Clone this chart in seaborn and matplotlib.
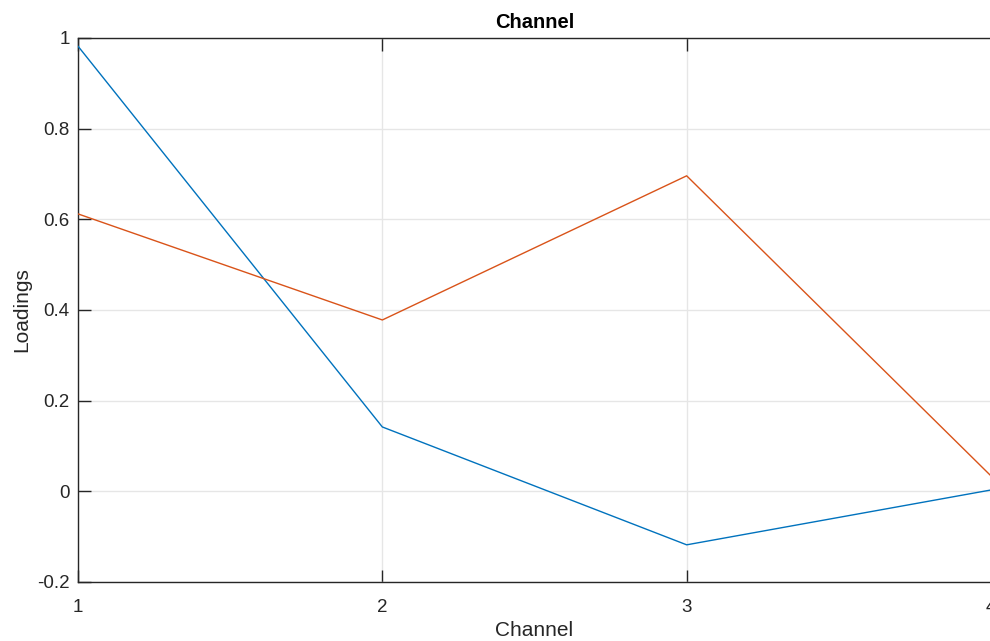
import matplotlib
matplotlib.use("Agg")
import matplotlib.pyplot as plt
import seaborn as sns
import pandas as pd

channels = [1, 2, 3, 4]
loading_1 = [0.982, 0.142, -0.118, 0.003]
loading_2 = [0.612, 0.378, 0.696, 0.034]
y_ticks = [-0.2, 0, 0.2, 0.4, 0.6, 0.8, 1.0]
y_tick_labels = ["-0.2", "0", "0.2", "0.4", "0.6", "0.8", "1"]
x_ticks = [1, 2, 3, 4]

sns.set_style("white")
plt.rcParams["font.family"] = ["Liberation Sans", "DejaVu Sans"]

df = pd.DataFrame({
    "Channel": channels * 2,
    "Loadings": loading_1 + loading_2,
    "Component": ["1"] * len(channels) + ["2"] * len(channels),
})

fig = plt.figure(figsize=(9.9, 6.41), dpi=100)
ax = fig.add_axes([78 / 990, 59 / 641, 913 / 990, 544 / 641])

sns.lineplot(data=df, x="Channel", y="Loadings", hue="Component",
             palette=["#0072BD", "#D95319"], linewidth=1.0, legend=False,
             ax=ax, zorder=3)

ax.set_xlim(1, 4)
ax.set_ylim(-0.2, 1.0)
ax.set_xticks(x_ticks)
ax.set_xticklabels([str(t) for t in x_ticks])
ax.set_yticks(y_ticks)
ax.set_yticklabels(y_tick_labels)

ax.grid(True, color="#e6e6e6", linewidth=1.0, zorder=0)
ax.set_axisbelow(True)

for side in ["left", "bottom", "top"]:
    ax.spines[side].set_visible(True)
    ax.spines[side].set_color("#262626")
    ax.spines[side].set_linewidth(1.0)
ax.spines["right"].set_visible(False)

ax.tick_params(axis="both", direction="in", length=9, width=1.0,
               color="#262626", labelsize=13.5, labelcolor="#262626",
               top=True, right=False, bottom=True, left=True)
ax.tick_params(axis="x", pad=12)
ax.tick_params(axis="y", pad=6)

ax.set_xlabel("Channel", fontsize=15, color="#262626", labelpad=4)
ax.set_ylabel("Loadings", fontsize=15, color="#262626", labelpad=4)
ax.set_title("Channel", fontsize=14.5, fontweight="bold", color="black", pad=7)

fig.savefig("out.png", dpi=100)
